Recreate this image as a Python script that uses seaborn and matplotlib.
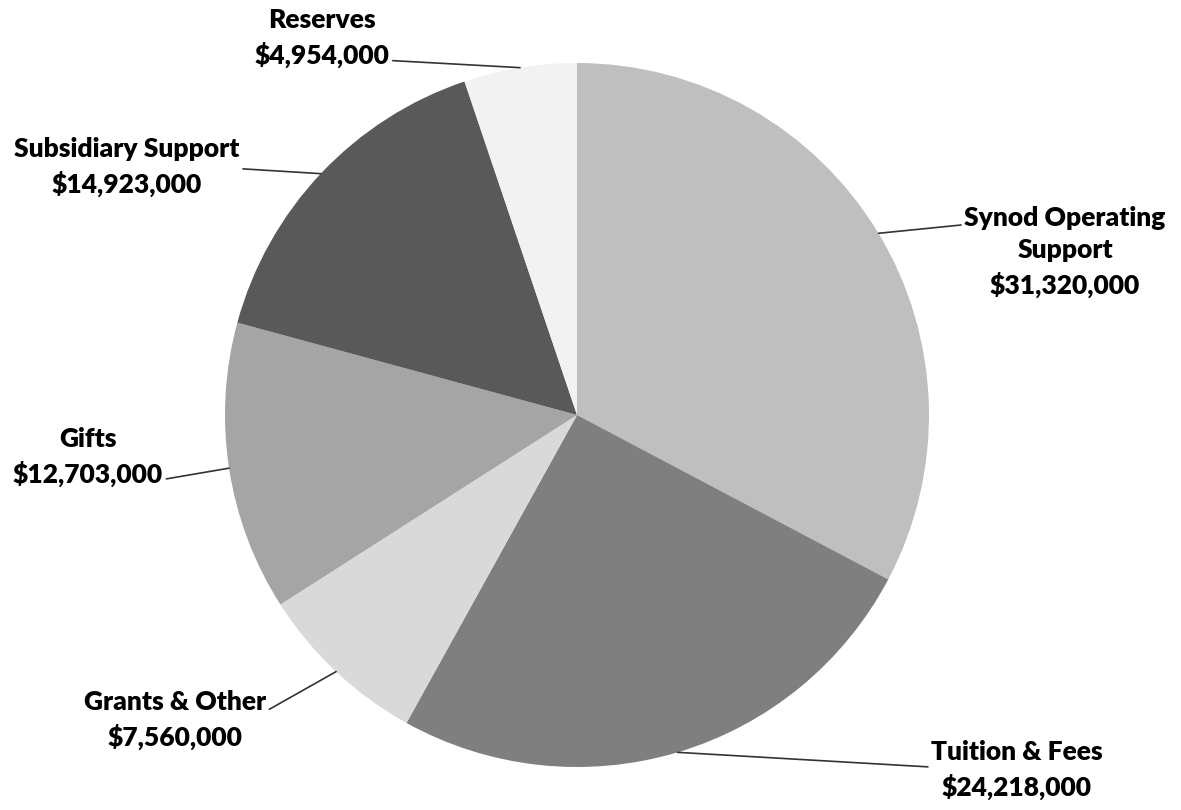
import matplotlib
matplotlib.use("Agg")
import matplotlib.pyplot as plt
import numpy as np
import seaborn as sns

# data (clockwise from 12 o'clock)
categories = ["Synod Operating\nSupport", "Tuition & Fees", "Grants & Other",
              "Gifts", "Subsidiary Support", "Reserves"]
amounts = [31320000, 24218000, 7560000, 12703000, 14923000, 4954000]
colors = ["#bfbfbf", "#7f7f7f", "#d9d9d9", "#a5a5a5", "#595959", "#f2f2f2"]

# label block centres (pixels) and where the leader line touches the text box
label_px = [(1065, 252), (1017, 770), (175, 720), (88, 457), (127, 167), (322, 38)]
relpos = [(0, 0.8), (0, 0.55), (1, 0.65), (1, 0.12), (0.88, 0.5), (1, 0.12)]

sns.set_theme(style="white")
plt.rcParams["font.family"] = ["Lato", "DejaVu Sans"]

W, H = 1181, 810
fig = plt.figure(figsize=(W / 100, H / 100), dpi=100)
cx, cy, r = 577, 415, 352
ax = fig.add_axes([(cx - r) / W, 1 - (cy + r) / H, 2 * r / W, 2 * r / H])

wedges, _ = ax.pie(amounts, colors=colors, startangle=90, counterclock=False,
                   radius=1, wedgeprops=dict(linewidth=0))
ax.set_xlim(-1, 1)
ax.set_ylim(-1, 1)
ax.set_aspect("equal")
ax.axis("off")

for w, cat, val, (px, py), rp in zip(wedges, categories, amounts, label_px, relpos):
    mid = np.deg2rad((w.theta1 + w.theta2) / 2)
    edge = (np.cos(mid), np.sin(mid))
    tx, ty = (px - cx) / r, (cy - py) / r
    ax.annotate(f"{cat}\n${val:,.0f}", xy=edge, xytext=(tx, ty),
                ha="center", va="center", fontsize=19, fontweight="heavy",
                color="#000000", linespacing=1.4, annotation_clip=False,
                arrowprops=dict(arrowstyle="-", color="#333333", lw=1.2,
                                relpos=rp, shrinkA=0, shrinkB=0))

fig.savefig("out.png", dpi=100, facecolor="white")
